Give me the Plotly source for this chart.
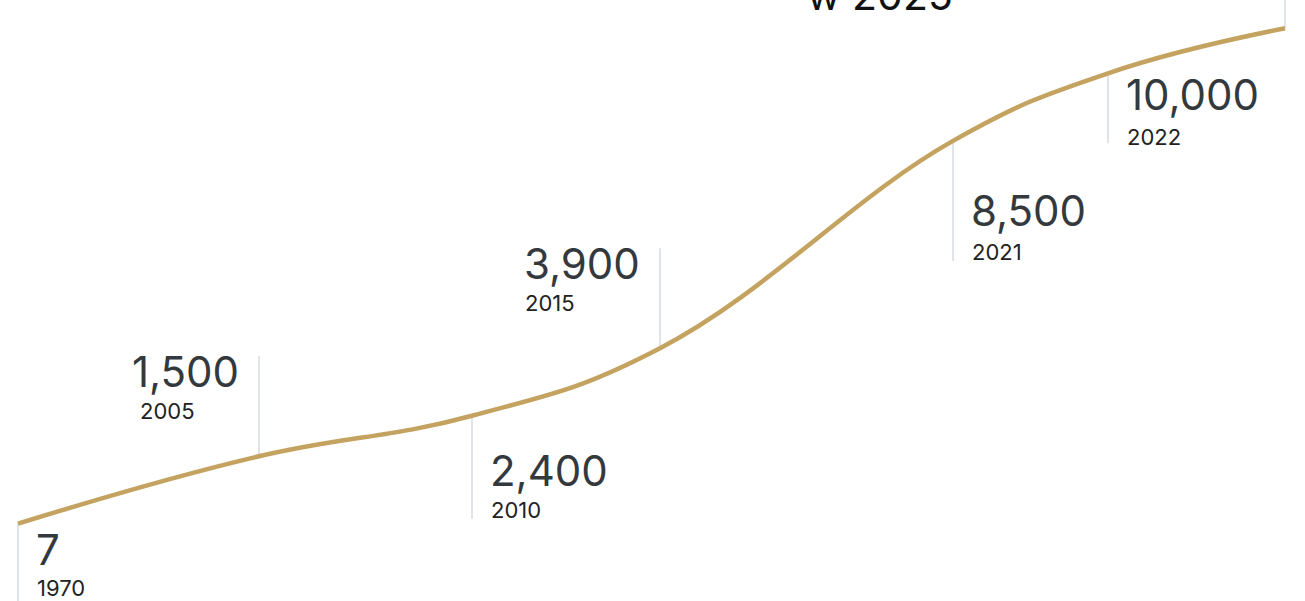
import plotly.graph_objects as go

# ---- data ----
years = ["1970", "2005", "2010", "2015", "2021", "2022", "2023"]
values = [7, 1500, 2400, 3900, 8500, 10000, 11000]
value_labels = ["7", "1,500", "2,400", "3,900", "8,500", "10,000", ""]
timeline_pos = [18, 259, 472, 660, 953, 1108, 1285]   # position along the drawn timeline
heading_tail = "w 2025"

# ---- styles ----
GOLD = "#c4a25f"
GRID = "#cfd6dd"
TXT = "#33393d"
FONT = "Inter, Open Sans, sans-serif"

# label layout per point: side, marker length (px, + up), value dy, year dy (px below point), year dx for up labels
side = ["down", "up", "down", "up", "down", "down", "up"]
stem = [-90, 100, -103, 100, -120, -70, 40]
val_dy = [11, -99, 40, -99, 55, 7, 0]
yr_dy = [55, -54, 85, -54, 102, 55, 0]
yr_dx_up = {1: -119, 3: -135}

fig = go.Figure()
fig.add_trace(go.Scatter(
    x=timeline_pos, y=values, mode="lines",
    line=dict(color=GOLD, width=4.5, shape="spline", smoothing=1.2),
    hoverinfo="skip", showlegend=False,
))

shapes = []
annotations = []
for i, (xp, v) in enumerate(zip(timeline_pos, values)):
    shapes.append(dict(
        type="line", xref="x", yref="y", ysizemode="pixel", yanchor=v,
        x0=xp, x1=xp, y0=0, y1=stem[i],
        line=dict(color=GRID, width=1.3), layer="below",
    ))
    if not value_labels[i]:
        continue
    if side[i] == "down":
        annotations.append(dict(
            x=xp, y=v, xref="x", yref="y", text=value_labels[i], showarrow=False,
            xanchor="left", yanchor="top", xshift=16, yshift=-(val_dy[i] - 13),
            font=dict(family=FONT, size=42, color=TXT),
        ))
        annotations.append(dict(
            x=xp, y=v, xref="x", yref="y", text=years[i], showarrow=False,
            xanchor="left", yanchor="top", xshift=17, yshift=-(yr_dy[i] - 6),
            font=dict(family=FONT, size=22, color="#222"),
        ))
    else:
        annotations.append(dict(
            x=xp, y=v, xref="x", yref="y", text=value_labels[i], showarrow=False,
            xanchor="right", yanchor="top", xshift=-18, yshift=-(val_dy[i] - 13),
            font=dict(family=FONT, size=42, color=TXT),
        ))
        annotations.append(dict(
            x=xp, y=v, xref="x", yref="y", text=years[i], showarrow=False,
            xanchor="left", yanchor="top", xshift=yr_dx_up[i] - 2, yshift=-(yr_dy[i] - 6),
            font=dict(family=FONT, size=22, color="#222"),
        ))

annotations.append(dict(
    x=805 / 1305, y=1, xref="paper", yref="paper", text=heading_tail, showarrow=False,
    xanchor="left", yanchor="bottom", yshift=-22,
    font=dict(family=FONT, size=41, color="#111"),
))

fig.update_layout(
    width=1305, height=601,
    margin=dict(l=0, r=0, t=0, b=0),
    paper_bgcolor="white", plot_bgcolor="white",
    xaxis=dict(range=[0, 1305], visible=False, fixedrange=True),
    yaxis=dict(range=[-1711, 11627], visible=False, fixedrange=True),
    shapes=shapes, annotations=annotations,
)

fig.write_html(
    "out.html",
    config={"displayModeBar": False},
    post_script="document.body.style.margin='0';document.body.style.overflow='hidden';",
)
